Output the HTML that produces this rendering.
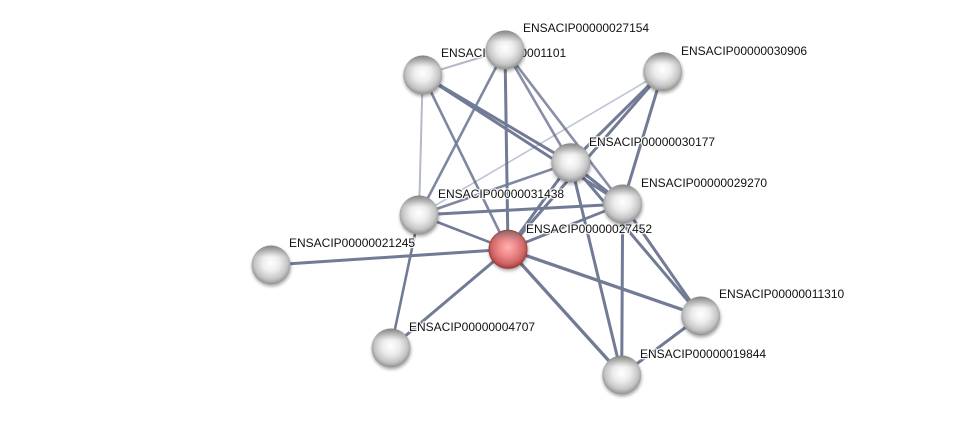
<!DOCTYPE html>
<html><head><meta charset="utf-8"><style>
html,body{margin:0;padding:0;background:#fff;}
svg{display:block;}
text{font-family:"Liberation Sans",Arial,sans-serif;font-size:12px;fill:#111;paint-order:stroke;stroke:rgba(255,255,255,0.85);stroke-width:2.5px;stroke-linejoin:round;}
</style></head><body>
<svg width="976" height="421" viewBox="0 0 976 421" xmlns="http://www.w3.org/2000/svg">
<defs>
<radialGradient id="gw" cx="50%" cy="45%" r="56%">
<stop offset="0%" stop-color="#ffffff"/>
<stop offset="40%" stop-color="#ececec"/>
<stop offset="75%" stop-color="#c6c6c6"/>
<stop offset="100%" stop-color="#8c8c8c"/>
</radialGradient>
<radialGradient id="gr" cx="50%" cy="45%" r="56%">
<stop offset="0%" stop-color="#ffb0b0"/>
<stop offset="40%" stop-color="#ee8a8a"/>
<stop offset="75%" stop-color="#cf6666"/>
<stop offset="100%" stop-color="#9e3636"/>
</radialGradient>
<linearGradient id="top" x1="0" y1="0" x2="0" y2="1">
<stop offset="0%" stop-color="#606060" stop-opacity="0.65"/>
<stop offset="30%" stop-color="#909090" stop-opacity="0"/>
</linearGradient>
<filter id="sh" x="-30%" y="-30%" width="160%" height="170%">
<feDropShadow dx="0.5" dy="2" stdDeviation="1.5" flood-color="#000" flood-opacity="0.35"/>
</filter>
</defs>
<g stroke-linecap="round" fill="none">
<line x1="422.7" y1="75" x2="505" y2="50" stroke="#9aa2ba" stroke-width="2" opacity="0.75"/>
<line x1="422.7" y1="75" x2="419" y2="215" stroke="#9aa2ba" stroke-width="2" opacity="0.75"/>
<line x1="662.7" y1="71.7" x2="419" y2="215" stroke="#a9b0c6" stroke-width="1.6" opacity="0.75"/>
<g stroke="#5a6484" opacity="0.85">
<line x1="422.7" y1="75" x2="570.7" y2="162.7" stroke-width="3"/>
<line x1="422.7" y1="75" x2="622.7" y2="204" stroke-width="3"/>
<line x1="422.7" y1="75" x2="508" y2="249.3" stroke-width="2.6" opacity="0.9"/>
<line x1="505" y1="50" x2="419" y2="215" stroke-width="2.6" opacity="0.9"/>
<line x1="505" y1="50" x2="508" y2="249.3" stroke-width="3"/>
<line x1="505" y1="50" x2="570.7" y2="162.7" stroke-width="2.6" opacity="0.85"/>
<line x1="505" y1="50" x2="622.7" y2="204" stroke-width="2.6" opacity="0.85"/>
<line x1="662.7" y1="71.7" x2="570.7" y2="162.7" stroke-width="3"/>
<line x1="662.7" y1="71.7" x2="508" y2="249.3" stroke-width="3"/>
<line x1="662.7" y1="71.7" x2="622.7" y2="204" stroke-width="3"/>
<line x1="570.7" y1="162.7" x2="419" y2="215" stroke-width="2.6" opacity="0.9"/>
<line x1="570.7" y1="162.7" x2="508" y2="249.3" stroke-width="3"/>
<line x1="570.7" y1="162.7" x2="622.7" y2="204" stroke-width="3.2"/>
<line x1="570.7" y1="162.7" x2="700.7" y2="316" stroke-width="3"/>
<line x1="570.7" y1="162.7" x2="621.7" y2="375" stroke-width="3"/>
<line x1="622.7" y1="204" x2="419" y2="215" stroke-width="3"/>
<line x1="622.7" y1="204" x2="508" y2="249.3" stroke-width="2.8"/>
<line x1="622.7" y1="204" x2="700.7" y2="316" stroke-width="3"/>
<line x1="622.7" y1="204" x2="621.7" y2="375" stroke-width="3"/>
<line x1="419" y1="215" x2="508" y2="249.3" stroke-width="2.6"/>
<line x1="419" y1="215" x2="391" y2="348" stroke-width="2.6"/>
<line x1="508" y1="249.3" x2="271" y2="265" stroke-width="3"/>
<line x1="508" y1="249.3" x2="391" y2="348" stroke-width="3"/>
<line x1="508" y1="249.3" x2="700.7" y2="316" stroke-width="3.3"/>
<line x1="508" y1="249.3" x2="621.7" y2="375" stroke-width="3.3"/>
<line x1="700.7" y1="316" x2="621.7" y2="375" stroke-width="3"/>
</g>
</g>
<g>
<text x="441" y="57">ENSACIP00000001101</text>
<text x="523" y="32">ENSACIP00000027154</text>
<text x="681" y="55">ENSACIP00000030906</text>
<text x="589" y="146">ENSACIP00000030177</text>
<text x="641" y="187">ENSACIP00000029270</text>
<text x="438" y="198">ENSACIP00000031438</text>
<text x="526" y="233">ENSACIP00000027452</text>
<text x="289" y="247">ENSACIP00000021245</text>
<text x="409" y="331">ENSACIP00000004707</text>
<text x="719" y="298">ENSACIP00000011310</text>
<text x="640" y="358">ENSACIP00000019844</text>
</g>
<g filter="url(#sh)">
<circle cx="422.7" cy="75" r="19.5" fill="url(#gw)"/>
<circle cx="505" cy="50" r="19.5" fill="url(#gw)"/>
<circle cx="662.7" cy="71.7" r="19.5" fill="url(#gw)"/>
<circle cx="570.7" cy="162.7" r="19.5" fill="url(#gw)"/>
<circle cx="622.7" cy="204" r="19.5" fill="url(#gw)"/>
<circle cx="419" cy="215" r="19.5" fill="url(#gw)"/>
<circle cx="508" cy="249.3" r="19.5" fill="url(#gr)"/>
<circle cx="271" cy="265" r="19.5" fill="url(#gw)"/>
<circle cx="391" cy="348" r="19.5" fill="url(#gw)"/>
<circle cx="700.7" cy="316" r="19.5" fill="url(#gw)"/>
<circle cx="621.7" cy="375" r="19.5" fill="url(#gw)"/>
</g>
<g fill="url(#top)">
<circle cx="422.7" cy="75" r="19.5"/>
<circle cx="505" cy="50" r="19.5"/>
<circle cx="662.7" cy="71.7" r="19.5"/>
<circle cx="570.7" cy="162.7" r="19.5"/>
<circle cx="622.7" cy="204" r="19.5"/>
<circle cx="419" cy="215" r="19.5"/>
<circle cx="508" cy="249.3" r="19.5"/>
<circle cx="271" cy="265" r="19.5"/>
<circle cx="391" cy="348" r="19.5"/>
<circle cx="700.7" cy="316" r="19.5"/>
<circle cx="621.7" cy="375" r="19.5"/>
</g>
<circle cx="508" cy="249.3" r="19" fill="none" stroke="#a03535" stroke-width="1" opacity="0.6"/>
</svg>
</body></html>
